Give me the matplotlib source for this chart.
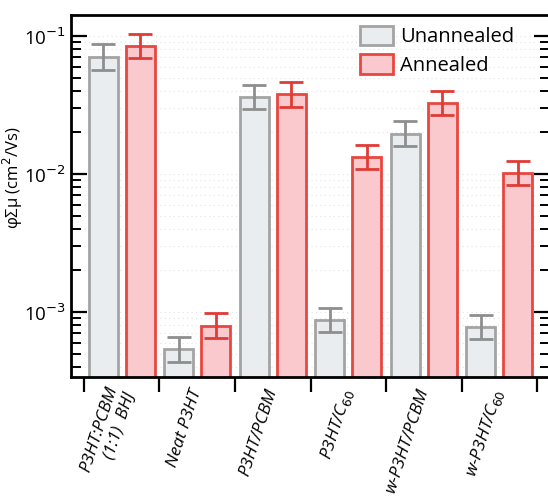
import numpy as np
import matplotlib
matplotlib.use('Agg')
import matplotlib.pyplot as plt
from matplotlib.ticker import LogLocator, NullFormatter

plt.rcParams['font.family'] = ['Open Sans', 'DejaVu Sans']

# samples (left to right)
samples = ['P3HT:PCBM\n(1:1)  BHJ', 'Neat P3HT', 'P3HT/PCBM',
           'P3HT/C$_{60}$', 'w-P3HT/PCBM', 'w-P3HT/C$_{60}$']

# phi*Sum(mu) in cm^2/Vs
unannealed = [0.0705, 5.37e-4, 0.0361, 8.75e-4, 0.0196, 7.78e-4]
unann_lo = [0.0568, 4.35e-4, 0.0296, 7.13e-4, 0.0160, 6.34e-4]
unann_hi = [0.0875, 6.56e-4, 0.0442, 1.07e-3, 0.0241, 9.50e-4]

annealed = [0.0847, 7.96e-4, 0.0380, 0.01328, 0.0327, 0.0102]
ann_lo = [0.0692, 6.46e-4, 0.0306, 0.01086, 0.0266, 0.0083]
ann_hi = [0.1030, 9.80e-4, 0.0464, 0.0162, 0.0402, 0.0125]

gray_edge = '#a3a3a3'
gray_fill = '#e9edf0'
gray_err = '#8e8e8e'
red_edge = '#e8473f'
red_fill = '#f9c9cd'
red_err = '#e03b36'

fig = plt.figure(figsize=(5.48, 5.0), dpi=100)
ax = fig.add_axes([71/548, 123/500, 479/548, 362/500])

x = np.arange(len(samples))
w = 0.385
off = 0.245

def yerr(vals, lo, hi):
    v = np.array(vals)
    return [v - np.array(lo), np.array(hi) - v]

ax.bar(x - off, unannealed, w, color=gray_fill, edgecolor=gray_edge,
       linewidth=2, label='Unannealed', zorder=2)
ax.bar(x + off, annealed, w, color=red_fill, edgecolor=red_edge,
       linewidth=2, label='Annealed', zorder=2)
ax.errorbar(x - off, unannealed, yerr=yerr(unannealed, unann_lo, unann_hi),
            fmt='none', ecolor=gray_err, elinewidth=2, capsize=8.5,
            capthick=2, zorder=3)
ax.errorbar(x + off, annealed, yerr=yerr(annealed, ann_lo, ann_hi),
            fmt='none', ecolor=red_err, elinewidth=2, capsize=8.5,
            capthick=2, zorder=3)

ax.set_yscale('log')
ax.set_ylim(3.38e-4, 0.142)
ax.set_xlim(-0.672, 5.672)

# faint dotted background grid
ax.yaxis.set_minor_locator(LogLocator(base=10, subs=np.arange(2, 10)))
ax.yaxis.set_minor_formatter(NullFormatter())
ax.grid(True, which='both', axis='y', linestyle=(0, (1, 3)),
        color='#e2e2e2', linewidth=0.8, zorder=0)

ax.set_yticks([1e-3, 1e-2, 1e-1])
ax.set_yticklabels(['10$^{-3}$', '10$^{-2}$', '10$^{-1}$'], fontsize=13.5)
ax.tick_params(axis='y', which='major', direction='in', length=11.5,
               width=1.6, left=True, right=True, pad=4)
ax.tick_params(axis='y', which='minor', direction='in', length=7,
               width=1.4, left=True, right=True)

ax.set_xticks(np.arange(-0.5, len(samples)), minor=False)
ax.set_xticklabels([])
ax.tick_params(axis='x', which='major', direction='out', length=11,
               width=1.6)
ax.set_xticks(x, minor=True)
ax.set_xticklabels(samples, minor=True, rotation=72, ha='right',
                   va='center', rotation_mode='anchor', fontsize=12.5,
                   style='italic')
ax.tick_params(axis='x', which='minor', length=0, pad=9)

for s in ax.spines.values():
    s.set_linewidth(2)

ax.set_ylabel('\u03c6\u03a3\u03bc (cm$^2$/Vs)', fontsize=12)
ax.yaxis.set_label_coords(-0.095, 0.55)

ax.legend(loc='upper left', bbox_to_anchor=(0.57, 1.015), frameon=False,
          fontsize=14.5, handlelength=1.65, handleheight=1.1,
          handletextpad=0.35, labelspacing=0.35, borderaxespad=0.4)

fig.savefig('out.png', dpi=100)
